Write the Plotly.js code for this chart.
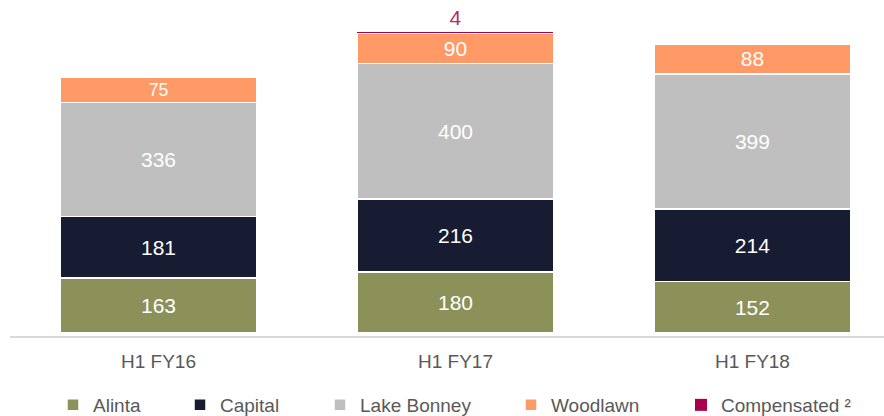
<!DOCTYPE html>
<html>
<head>
<meta charset="utf-8">
<script src="https://cdn.plot.ly/plotly-3.0.1.min.js"></script>
<style>html,body{margin:0;padding:0;background:#fff;}#chart{width:884px;height:416px;}</style>
</head>
<body>
<div id="chart"></div>
<script>
const categories = ["H1 FY16", "H1 FY17", "H1 FY18"];
const alinta = [163, 180, 152];
const capital = [181, 216, 214];
const lakeBonney = [336, 400, 399];
const woodlawn = [75, 90, 88];
const compensated = [0, 4, 0];
const seriesNames = ["Alinta", "Capital", "Lake Bonney", "Woodlawn", "Compensated ²"];

const FONT = '"Liberation Sans Narrow", "Arial Narrow", "Liberation Sans", Arial, sans-serif';
const L = 10, W = 884, H = 416;
const legendTextX = [95, 222, 362, 553, 723];

function barTrace(i, vals, color, textColor, pos) {
  return {
    type: 'bar', name: seriesNames[i], x: categories, y: vals,
    legend: i === 0 ? 'legend' : 'legend' + (i + 1),
    marker: {color: color, line: {color: '#ffffff', width: i === 4 ? 0 : 1.5}},
    width: 0.66,
    text: vals.map(v => v > 0 ? String(v) : ''),
    textposition: pos,
    insidetextanchor: 'middle',
    cliponaxis: false,
    textfont: {family: FONT, size: 21, color: textColor},
    hoverinfo: 'name+y'
  };
}

const traces = [
  barTrace(0, alinta, '#8c915a', '#ffffff', 'inside'),
  barTrace(1, capital, '#171c33', '#ffffff', 'inside'),
  barTrace(2, lakeBonney, '#bfbfbf', '#ffffff', 'inside'),
  barTrace(3, woodlawn, '#ff9966', '#ffffff', 'inside'),
  barTrace(4, compensated, '#a8004a', '#b0306a', 'outside')
];

const layout = {
  width: W, height: H,
  margin: {l: L, r: 0, t: 0, b: 80},
  barmode: 'stack',
  paper_bgcolor: '#ffffff', plot_bgcolor: '#ffffff',
  showlegend: true,
  xaxis: {
    type: 'category', range: [-0.5, 2.443],
    showgrid: false, zeroline: false,
    showline: true, linecolor: '#d9d9d9', linewidth: 1.5,
    ticks: '', ticklabelstandoff: 8,
    tickfont: {family: FONT, size: 19, color: '#595959'}
  },
  yaxis: {
    range: [-8.9, 983], visible: false, showgrid: false, zeroline: false, fixedrange: true
  }
};

legendTextX.forEach((tx, i) => {
  const key = i === 0 ? 'legend' : 'legend' + (i + 1);
  layout[key] = {
    orientation: 'h', xref: 'container', yref: 'container',
    x: (tx - 42) / W, xanchor: 'left',
    y: (H - 405) / H, yanchor: 'middle',
    font: {family: FONT, size: 19, color: '#595959'},
    bgcolor: 'rgba(0,0,0,0)', itemwidth: 30
  };
});

Plotly.newPlot('chart', traces, layout, {displayModeBar: false, staticPlot: true});
</script>
</body>
</html>
